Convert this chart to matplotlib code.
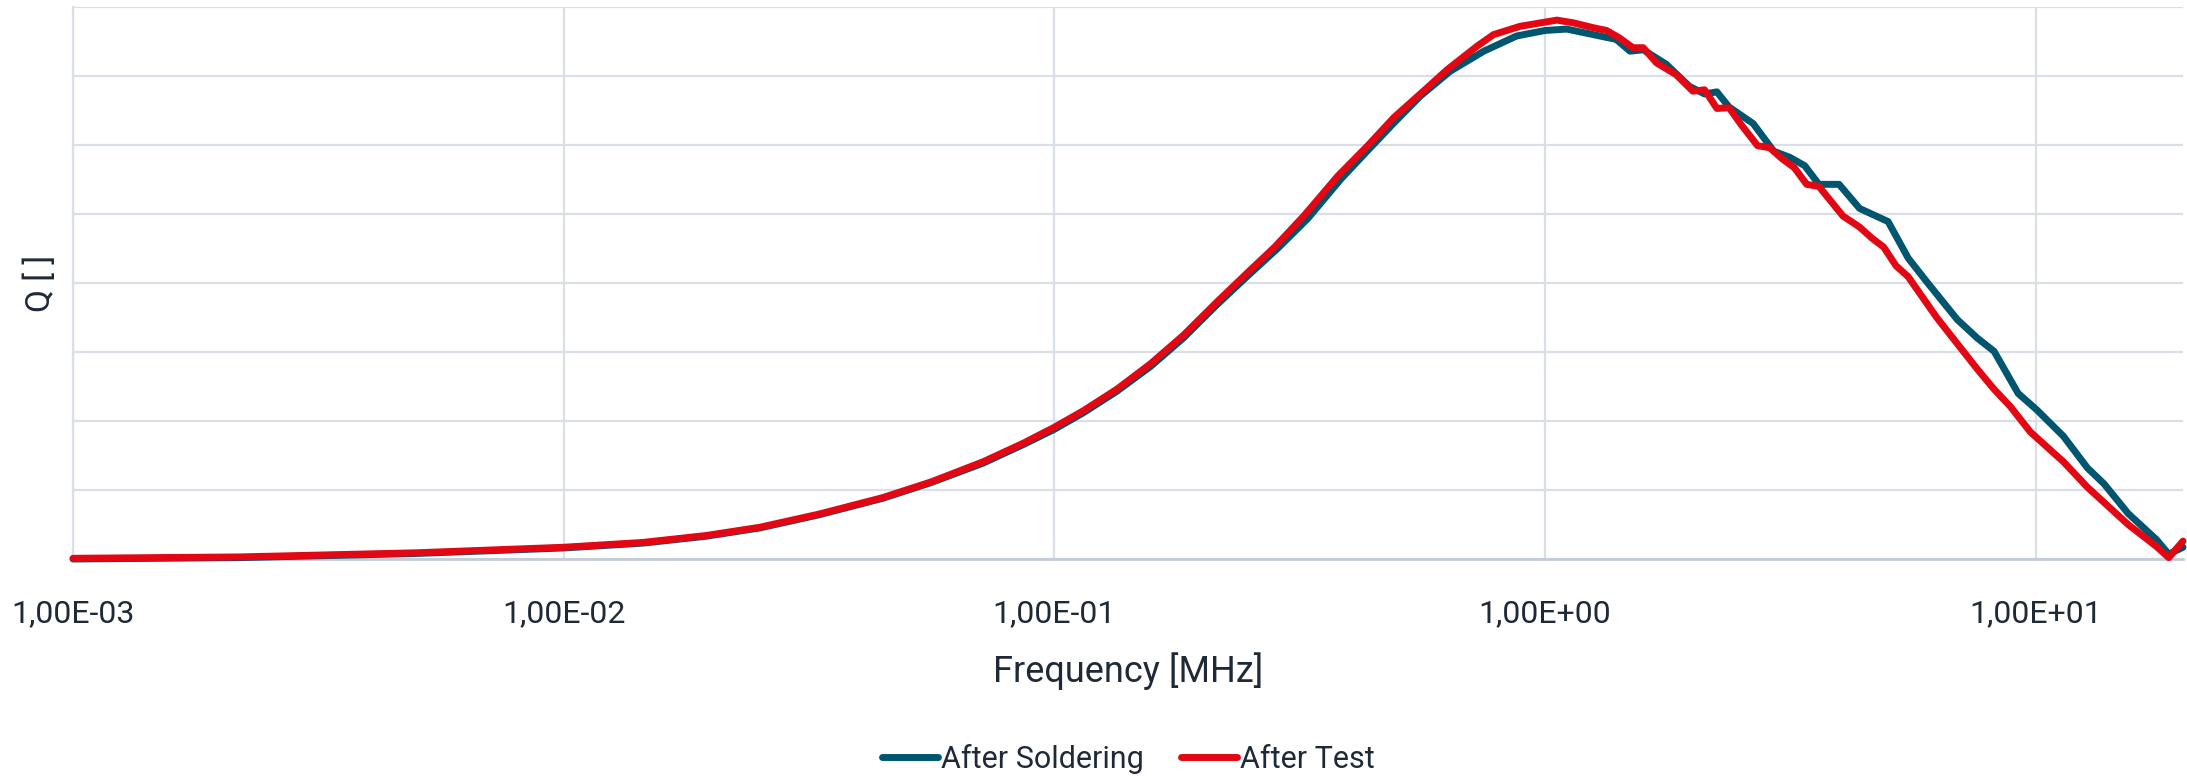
import matplotlib
matplotlib.use("Agg")
import matplotlib.pyplot as plt
from matplotlib.ticker import FixedLocator, NullLocator

## Data (frequency in MHz, Q in arbitrary units)
freq_soldering = [0.001, 0.00219, 0.00501, 0.01, 0.0145, 0.0195, 0.0251, 0.0331, 0.0447,
                  0.0562, 0.0716, 0.0865, 0.1, 0.1146, 0.134, 0.157, 0.183, 0.214, 0.250,
                  0.285, 0.328, 0.384, 0.435, 0.492, 0.557, 0.641, 0.750, 0.875, 1.0,
                  1.107, 1.253, 1.396, 1.489, 1.585, 1.766, 1.968, 2.113, 2.239, 2.371,
                  2.655, 2.924, 3.155, 3.381, 3.614, 3.972, 4.375, 5.0, 5.495, 6.053,
                  6.918, 7.603, 8.222, 9.204, 10.05, 11.38, 12.74, 13.77, 15.42, 17.62,
                  18.66, 19.95]
q_soldering = [0.0, 0.2, 0.8, 1.6, 2.3, 3.3, 4.5, 6.4, 8.8, 11.1, 13.9, 16.6, 18.8, 21.2,
               24.3, 27.9, 32.0, 36.8, 41.3, 45.0, 49.3, 55.1, 59.2, 63.2, 67.1, 70.7,
               73.6, 75.8, 76.6, 76.8, 76.0, 75.3, 73.6, 73.8, 71.7, 68.5, 67.4, 67.7,
               65.5, 63.1, 59.1, 58.2, 57.0, 54.3, 54.3, 50.8, 48.9, 43.6, 39.8, 34.7,
               32.0, 30.1, 24.0, 21.6, 17.8, 13.2, 10.9, 6.6, 2.8, 0.7, 1.7]

freq_test = [0.001, 0.00219, 0.00501, 0.01, 0.0145, 0.0195, 0.0251, 0.0331, 0.0447,
             0.0562, 0.0716, 0.0865, 0.1, 0.1146, 0.134, 0.157, 0.183, 0.214, 0.250,
             0.281, 0.323, 0.378, 0.435, 0.492, 0.575, 0.631, 0.726, 0.785, 0.889,
             1.057, 1.143, 1.253, 1.334, 1.419, 1.510, 1.585, 1.687, 1.849, 2.0,
             2.113, 2.239, 2.371, 2.512, 2.710, 2.871, 3.041, 3.221, 3.412, 3.614,
             4.046, 4.375, 4.634, 4.898, 5.188, 5.495, 6.281, 6.918, 7.603, 8.222,
             8.872, 9.750, 11.38, 12.74, 15.42, 17.62, 18.66, 19.95]
q_test = [0.1, 0.3, 0.9, 1.7, 2.4, 3.4, 4.6, 6.5, 8.9, 11.2, 14.1, 16.8, 19.1, 21.5,
          24.6, 28.3, 32.4, 37.2, 41.8, 45.2, 49.8, 55.5, 59.9, 64.0, 68.3, 70.9,
          74.3, 76.0, 77.2, 78.1, 77.7, 77.0, 76.6, 75.5, 74.1, 74.1, 71.9, 70.2,
          67.8, 68.0, 65.3, 65.4, 62.9, 59.9, 59.6, 58.0, 56.7, 54.3, 54.0, 49.7,
          48.1, 46.5, 45.2, 42.5, 40.9, 35.0, 31.2, 27.5, 24.6, 22.1, 18.4, 14.1,
          10.4, 5.0, 1.8, 0.2, 2.6]

x_ticks = [1e-3, 1e-2, 1e-1, 1e0, 1e1]
x_tick_labels = ["1,00E-03", "1,00E-02", "1,00E-01", "1,00E+00", "1,00E+01"]
y_grid = [0, 10, 20, 30, 40, 50, 60, 70, 80]

BLUE = "#00566e"
RED = "#e30613"
GRID = "#d9dee7"
TEXT = "#1f2a36"

plt.rcParams['font.family'] = ['Roboto', 'DejaVu Sans']

fig = plt.figure(figsize=(21.87, 7.8), dpi=100)
ax = fig.add_axes([73 / 2187, 1 - 559 / 780, (2183 - 73) / 2187, (559 - 7) / 780])

ax.plot(freq_soldering, q_soldering, color=BLUE, lw=5, solid_joinstyle='round',
        solid_capstyle='round', label="After Soldering", zorder=3, clip_on=False)
ax.plot(freq_test, q_test, color=RED, lw=5, solid_joinstyle='round',
        solid_capstyle='round', label="After Test", zorder=4, clip_on=False)

ax.set_xscale('log')
ax.set_xlim(1e-3, 19.95)
ax.set_ylim(0, 80)

ax.xaxis.set_major_locator(FixedLocator(x_ticks))
ax.xaxis.set_minor_locator(NullLocator())
ax.set_xticklabels(x_tick_labels)
ax.yaxis.set_major_locator(FixedLocator(y_grid))
ax.set_yticklabels([])

ax.grid(True, color=GRID, lw=1.6, zorder=0)
ax.set_axisbelow(True)
ax.tick_params(axis='both', length=0, labelsize=23, labelcolor=TEXT)
ax.tick_params(axis='x', pad=29)

for side in ['top', 'right']:
    ax.spines[side].set_visible(False)
ax.spines['left'].set_color(GRID)
ax.spines['left'].set_linewidth(1.6)
ax.spines['bottom'].set_color("#c3cbd8")
ax.spines['bottom'].set_linewidth(2)

ax.set_xlabel("Frequency [MHz]", fontsize=26, color=TEXT, labelpad=17)
ax.set_ylabel("Q [ ]", fontsize=24, color=TEXT, labelpad=8)

fig.legend(loc='center', bbox_to_anchor=(0.516, 0.027), ncol=2, frameon=False,
           fontsize=22, handlelength=1.85, handletextpad=0.1, columnspacing=1.2,
           labelcolor=TEXT)

fig.savefig("out.png", dpi=100)
